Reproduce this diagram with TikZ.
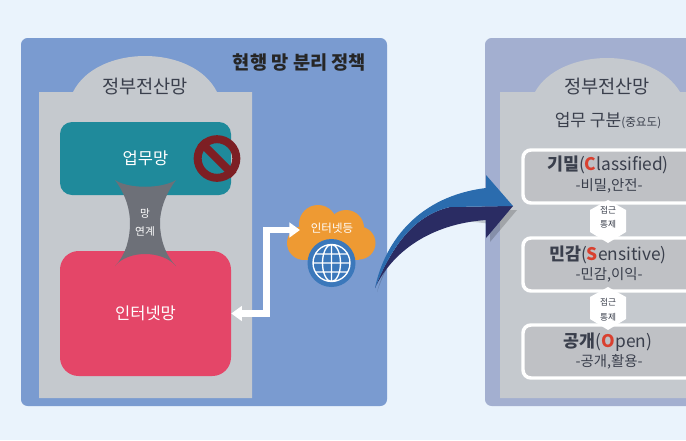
\documentclass[tikz,border=0pt]{standalone}
\usepackage{fontspec}
\setmainfont{Noto Sans CJK KR}
\usetikzlibrary{arrows.meta,shapes.geometric}
\definecolor{pageblue}{HTML}{EAF3FC}
\definecolor{panelblue}{HTML}{7A9BD0}
\definecolor{panelgrey}{HTML}{A3AFD0}
\definecolor{netgrey}{HTML}{C5C9CE}
\definecolor{boxgrey}{HTML}{BFC1C5}
\definecolor{workteal}{HTML}{1F8A9B}
\definecolor{netred}{HTML}{E44668}
\definecolor{banred}{HTML}{7D1F24}
\definecolor{linkgrey}{HTML}{6D7078}
\definecolor{cloudorange}{HTML}{EE9A33}
\definecolor{globeblue}{HTML}{3B78BB}
\definecolor{arrowblue}{HTML}{2B6CAE}
\definecolor{arrownavy}{HTML}{2A2C63}
\definecolor{inkgrey}{HTML}{3A3F4C}
\definecolor{letterred}{HTML}{D9402F}
\tikzset{
  netbox/.style={rectangle, minimum width=128.25pt, text=white, font=\fontsize{12.4pt}{14pt}\selectfont},
  title/.style={text=inkgrey, font=\fontsize{14pt}{16pt}\selectfont},
  smalltxt/.style={text=white, inner sep=0pt, font=\fontsize{8pt}{9pt}\selectfont},
  hextxt/.style={text=inkgrey, inner sep=0pt, font=\fontsize{6.5pt}{7pt}\selectfont},
  classbox/.style={draw=white, line width=2.6pt, fill=boxgrey, rounded corners=6pt},
  classname/.style={text=inkgrey, inner sep=0pt, font=\fontsize{13pt}{15pt}\selectfont},
  classsub/.style={text=inkgrey, inner sep=0pt, font=\fontsize{10.8pt}{12pt}\selectfont},
  netarrow/.style={draw=white, line width=5pt, {Triangle[width=11pt,length=8pt]}-{Triangle[width=11pt,length=8pt]}}
}
\begin{document}
\begin{tikzpicture}[x=0.75pt,y=-0.75pt]
  \useasboundingbox (0,0) rectangle (686,440);
  \clip (0,0) rectangle (686,440);
  \fill [pageblue] (0,0) rectangle (686,440);

  \fill [panelblue, rounded corners=5pt] (21,38) rectangle (387,406);
  \fill [panelgrey, rounded corners=5pt] (485,38) rectangle (710,406);
  \fill [netgrey] (39,92) -- (73,92) .. controls (85,68) and (115,56) .. (145,56) .. controls (175,56) and (205,68) .. (217,92) -- (252,92) -- (252,398) -- (39,398) -- cycle;
  \fill [netgrey] (500,92) -- (535,92) .. controls (547,70) and (577,58) .. (607,58) .. controls (637,58) and (667,70) .. (680,92) -- (700,92) -- (700,398) -- (500,398) -- cycle;

  \node [title] (govleft) at (145,87) {정부전산망};
  \node [netbox, minimum height=54.75pt, fill=workteal, rounded corners=9pt] (work) at (145.5,158.5) {업무망};
  \node [netbox, minimum height=93.75pt, fill=netred, rounded corners=14pt] (internet) at (145.5,313.5) {인터넷망};
  \node [circle, draw=banred, line width=6pt, minimum size=29pt, inner sep=0pt] (ban) at (217,158.5) {};
  \draw [banred, line width=6pt] (ban.135) -- (ban.-45);

  \fill [linkgrey] (115,180) .. controls (128,189) and (162,189) .. (176,180) .. controls (165,195) and (160,210) .. (160,223) .. controls (160,238) and (165,255) .. (176,266) .. controls (162,250) and (128,250) .. (115,266) .. controls (126,255) and (130,238) .. (130,223) .. controls (130,210) and (126,195) .. cycle;
  \node [smalltxt] (linka) at (145,213) {망};
  \node [smalltxt] (linkb) at (145,231) {연계};

  \fill [cloudorange] (318,224) circle (19) (346,228) circle (18) (304,243) circle (17) (359,243) circle (16.5);
  \fill [cloudorange] (304,232) rectangle (359,260);
  \node [inner sep=0pt, text=white, font=\fontsize{8.6pt}{10pt}\selectfont] (cloud) at (332,228) {인터넷등};
  \node [circle, fill=globeblue, minimum size=36pt, inner sep=0pt] (globe) at (331.5,263) {};
  \draw [white, line width=1pt] (331.5,263) circle (18.5) (331.5,263) ellipse (9 and 18.5) (313,263) -- (350,263) (331.5,244.5) -- (331.5,281.5) (315.5,254) -- (347.5,254) (315.5,272) -- (347.5,272);

  \coordinate (bend) at (266.5,230);
  \coordinate (cloudin) at (300,230);
  \draw [netarrow] (internet.east) -| (bend) -- (cloudin);

  \fill [black, opacity=.18] (377,292) .. controls (388,250) and (420,212) .. (490,224) -- (490,242) -- (517,210) -- (460,212) .. controls (425,214) and (395,240) .. cycle;
  \fill [arrownavy] (375,288) .. controls (392,252) and (430,224) .. (486,220) -- (486,238) -- (513,206) -- (450,207) .. controls (415,215) and (392,245) .. cycle;
  \fill [arrowblue] (375,288) .. controls (385,240) and (420,196) .. (486,188) -- (486,175) -- (513,206) -- (450,207) .. controls (415,215) and (392,245) .. cycle;

  \node [title] (govright) at (607,87) {정부전산망};
  \node [inner sep=0pt, text=inkgrey, font=\fontsize{12.8pt}{15pt}\selectfont] (dutytitle) at (608,121) {업무 구분{\fontsize{8.7pt}{10pt}\selectfont(중요도)}};

  \draw [classbox] (523,150) rectangle (710,203);
  \draw [classbox] (523,238) rectangle (710,291);
  \draw [classbox] (523,325) rectangle (710,378);

  \foreach \yy in {200,287} {
    \fill [white] (608,\yy) -- ++(18,10) -- ++(0,22) -- ++(-18,11) -- ++(-18,-11) -- ++(0,-22) -- cycle;
  }
  \node [hextxt] (hexatop) at (608,210) {접근};
  \node [hextxt] (hexabot) at (608,224) {통제};
  \node [hextxt] (hexbtop) at (608,302) {접근};
  \node [hextxt] (hexbbot) at (608,317) {통제};

  \node [classname] (classa) at (608,165) {\textbf{기밀}(\textcolor{letterred}{\textbf{C}}lassified)};
  \node [classsub] (suba) at (609,186) {-비밀,안전-};
  \node [classname] (classb) at (608,255) {\textbf{민감}(\textcolor{letterred}{\textbf{S}}ensitive)};
  \node [classsub] (subb) at (609,275) {-민감,이익-};
  \node [classname] (classc) at (608,342) {\textbf{공개}(\textcolor{letterred}{\textbf{O}}pen)};
  \node [classsub] (subc) at (609,362) {-공개,활용-};

  \node [inner sep=0pt, font=\bfseries\fontsize{14pt}{16pt}\selectfont, text=black!85] (policy) at (299.5,62) {현행 망 분리 정책};
\end{tikzpicture}
\end{document}
